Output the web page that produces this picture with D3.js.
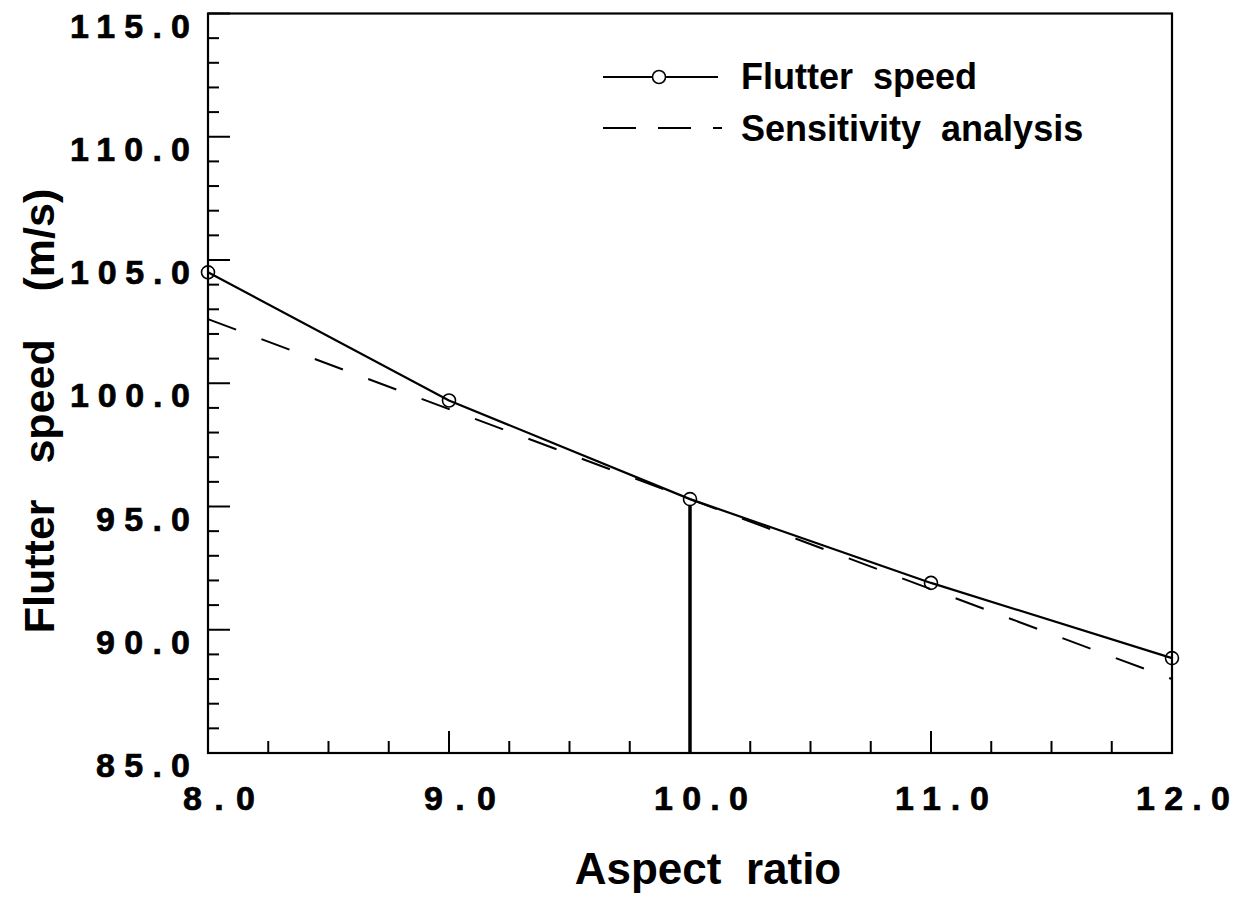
<!DOCTYPE html>
<html>
<head>
<meta charset="utf-8">
<script src="https://cdn.jsdelivr.net/npm/d3@7"></script>
<style>
  body { margin: 0; background: #fff; }
  svg { display: block; font-family: 'Liberation Sans', Arial, Helvetica, sans-serif; font-weight: bold; }
  text { white-space: pre; }
</style>
</head>
<body>
<div id="chart"></div>
<script>
// flutter speed vs. aspect ratio
const aspectRatio = [8, 9, 10, 11, 12];
const flutterSpeed = [104.5, 99.3, 95.3, 91.9, 88.85];

// linear sensitivity estimate around AR = 10
const sensAspect = [8, 10, 12];
const sensSpeed = [102.6, 95.3, 88.0];

const xTickLabels = ['8.0', '9.0', '10.0', '11.0', '12.0'];
const yTickLabels = ['85.0', '90.0', '95.0', '100.0', '105.0', '110.0', '115.0'];

const W = 1249, H = 903;
const margin = { top: 13.5, right: 77, bottom: 150, left: 208 };
const width = W - margin.left - margin.right;
const height = H - margin.top - margin.bottom;

const svg = d3.select('#chart').append('svg')
  .attr('width', W)
  .attr('height', H);

const g = svg.append('g')
  .attr('transform', `translate(${margin.left},${margin.top})`);

const x = d3.scaleLinear().domain([8, 12]).range([0, width]);
const y = d3.scaleLinear().domain([85, 115]).range([height, 0]);

// minor + major ticks, drawn inward
const xMinor = d3.range(8, 12.001, 0.25);
const yMinor = d3.range(85, 115.001, 1);

g.append('g').selectAll('line')
  .data(xMinor)
  .enter().append('line')
    .attr('x1', d => x(d)).attr('x2', d => x(d))
    .attr('y1', height)
    .attr('y2', d => height - (Math.abs(d - Math.round(d)) < 1e-6 ? 22 : 12))
    .attr('stroke', '#000').attr('stroke-width', 2);

g.append('g').selectAll('line')
  .data(yMinor)
  .enter().append('line')
    .attr('y1', d => y(d)).attr('y2', d => y(d))
    .attr('x1', 0)
    .attr('x2', d => (d % 5 === 0 ? 22 : 11))
    .attr('stroke', '#000').attr('stroke-width', 2);

// frame
g.append('rect')
  .attr('width', width).attr('height', height)
  .attr('fill', 'none').attr('stroke', '#000').attr('stroke-width', 2.2);

// tick labels are widely spaced and heavy in the original
const labelWidth = { 3: 72, 4: 94, 5: 120 };
g.append('g').selectAll('text')
  .data(yTickLabels)
  .enter().append('text')
    .attr('x', -18)
    .attr('y', d => y(+d) + 24)
    .attr('text-anchor', 'end')
    .attr('font-size', 34)
    .attr('stroke', '#000').attr('stroke-width', 0.7)
    .attr('textLength', d => labelWidth[d.length])
    .attr('lengthAdjust', 'spacing')
    .text(d => d);

g.append('g').selectAll('text')
  .data(xTickLabels)
  .enter().append('text')
    .attr('x', d => x(+d) + 11)
    .attr('y', height + 57)
    .attr('text-anchor', 'middle')
    .attr('font-size', 34)
    .attr('stroke', '#000').attr('stroke-width', 0.7)
    .attr('textLength', d => labelWidth[d.length])
    .attr('lengthAdjust', 'spacing')
    .text(d => d);

// axis titles
svg.append('text')
  .attr('x', 708)
  .attr('y', 884)
  .attr('text-anchor', 'middle')
  .attr('font-size', 44)
  .text('Aspect  ratio');

svg.append('text')
  .attr('transform', 'translate(54,411) rotate(-90)')
  .attr('text-anchor', 'middle')
  .attr('font-size', 43)
  .text('Flutter   speed    (m/s)');

// sensitivity (dashed)
const line = d3.line().x(d => x(d[0])).y(d => y(d[1]));
g.append('path')
  .datum(d3.zip(sensAspect, sensSpeed))
  .attr('d', line)
  .attr('fill', 'none')
  .attr('stroke', '#000')
  .attr('stroke-width', 2)
  .attr('stroke-dasharray', '30,27');

// flutter speed (solid with circles)
const flutterPts = d3.zip(aspectRatio, flutterSpeed);
g.append('path')
  .datum(flutterPts)
  .attr('d', line)
  .attr('fill', 'none')
  .attr('stroke', '#000')
  .attr('stroke-width', 2.2);

g.append('g').selectAll('circle')
  .data(flutterPts)
  .enter().append('circle')
    .attr('cx', d => x(d[0]))
    .attr('cy', d => y(d[1]))
    .attr('r', 6.5)
    .attr('fill', 'none')
    .attr('stroke', '#000')
    .attr('stroke-width', 1.6);

// vertical marker at the design aspect ratio
g.append('line')
  .attr('x1', x(10)).attr('x2', x(10))
  .attr('y1', y(flutterSpeed[2]) + 6.5)
  .attr('y2', height)
  .attr('stroke', '#000')
  .attr('stroke-width', 3.5);

// legend
const leg = svg.append('g').attr('transform', 'translate(603,0)');
leg.append('line')
  .attr('x1', 0).attr('x2', 115).attr('y1', 77).attr('y2', 77)
  .attr('stroke', '#000').attr('stroke-width', 2);
leg.append('circle')
  .attr('cx', 56).attr('cy', 77).attr('r', 6.5)
  .attr('fill', '#fff').attr('stroke', '#000').attr('stroke-width', 1.6);
leg.append('text')
  .attr('x', 138).attr('y', 89)
  .attr('font-size', 36)
  .text('Flutter  speed');

leg.append('line')
  .attr('x1', 0).attr('x2', 119).attr('y1', 128).attr('y2', 128)
  .attr('stroke', '#000').attr('stroke-width', 2)
  .attr('stroke-dasharray', '33,22');
leg.append('text')
  .attr('x', 138).attr('y', 141)
  .attr('font-size', 36)
  .text('Sensitivity  analysis');
</script>
</body>
</html>
